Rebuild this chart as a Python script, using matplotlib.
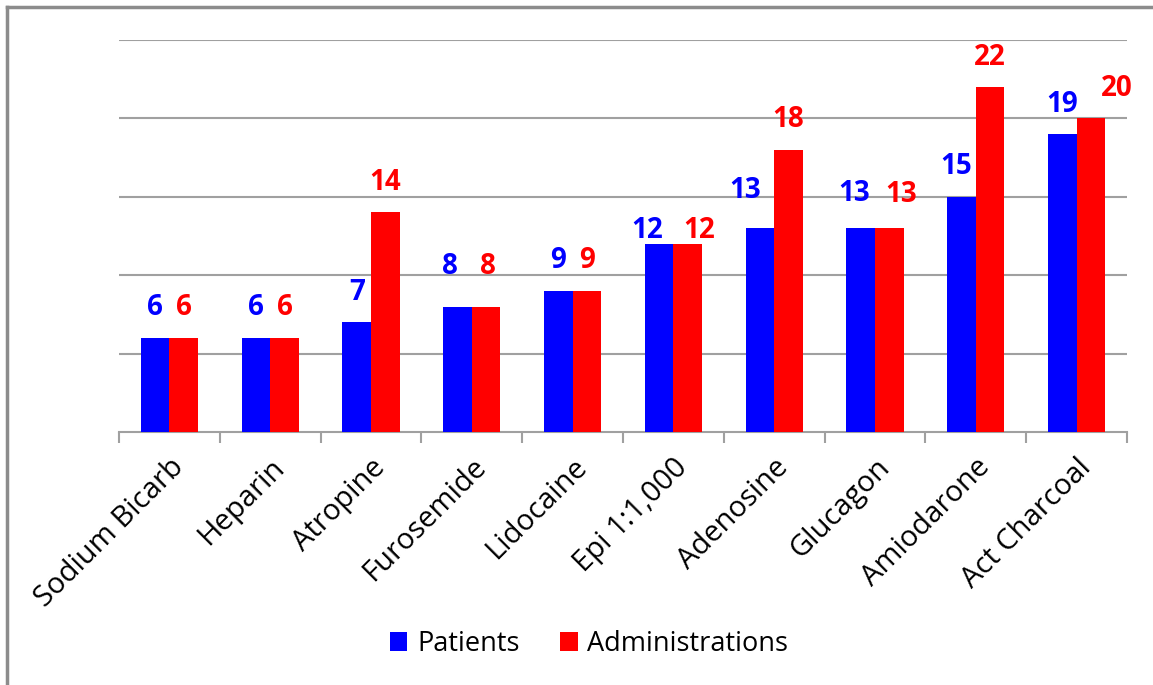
import numpy as np
import matplotlib.pyplot as plt
from matplotlib.lines import Line2D

# --------------------
# Data
# --------------------
drugs = ["Sodium Bicarb", "Heparin", "Atropine", "Furosemide", "Lidocaine",
         "Epi 1:1,000", "Adenosine", "Glucagon", "Amiodarone", "Act Charcoal"]
patients = [6, 6, 7, 8, 9, 12, 13, 13, 15, 19]
administrations = [6, 6, 14, 8, 9, 12, 18, 13, 22, 20]

# label nudges (px) where the labels were moved apart in the original
patient_dx = [0, 0, 0, -8, 0, -12, -15, -7, -5, 0]
patient_dy = [0, 0, 0, 10, 0, -17, 8, 5, 0, 0]
admin_dx = [0, 0, 0, 2, 0, 12, 0, 12, 0, 26]
admin_dy = [0, 0, 0, 10, 0, -17, 0, 4, 0, 0]

plt.rcParams["font.family"] = ["Open Sans", "DejaVu Sans"]

fig = plt.figure(figsize=(11.53, 6.85), dpi=100)
ax = fig.add_axes([119 / 1153, 1 - 432 / 685, (1127 - 119) / 1153, (432 - 40) / 685])

x = np.arange(len(drugs))
w = 0.283

ax.bar(x - w / 2, patients, w, color="#0000FF", label="Patients", zorder=3)
ax.bar(x + w / 2, administrations, w, color="#FF0000", label="Administrations", zorder=3)

px = 0.72  # points per pixel at dpi 100
for i in range(len(drugs)):
    ax.annotate(str(patients[i]), (x[i] - w / 2, patients[i]),
                xytext=(patient_dx[i] * px, (30 + patient_dy[i]) * px),
                textcoords="offset points", ha="center", va="center",
                color="#0000FF", fontsize=20, fontweight="bold")
    ax.annotate(str(administrations[i]), (x[i] + w / 2, administrations[i]),
                xytext=(admin_dx[i] * px, (30 + admin_dy[i]) * px),
                textcoords="offset points", ha="center", va="center",
                color="#FF0000", fontsize=20, fontweight="bold")

ax.set_xlim(-0.5, len(drugs) - 0.5)
ax.set_ylim(0, 25)
ax.set_yticks([5, 10, 15, 20, 25])
ax.yaxis.grid(True, color="#A0A0A0", linewidth=1.5, zorder=0)
ax.tick_params(axis="y", left=False, labelleft=False)

ax.set_xticks(x)
ax.set_xticklabels(drugs, rotation=45, ha="right", rotation_mode="anchor", fontsize=21)
ax.tick_params(axis="x", which="major", length=0, pad=15)
ax.set_xticks(np.arange(-0.5, len(drugs), 1.0), minor=True)
ax.tick_params(axis="x", which="minor", length=8, width=1.5, color="#A0A0A0")

for s in ["left", "right", "top"]:
    ax.spines[s].set_visible(False)
ax.spines["bottom"].set_color("#A0A0A0")
ax.spines["bottom"].set_linewidth(1.5)

fig.legend(loc="center", bbox_to_anchor=(589 / 1153, 1 - 644 / 685), ncol=2,
           frameon=False, fontsize=19.5, handlelength=0.65, handleheight=0.65,
           handletextpad=0.35, columnspacing=1.5)

# outer frame (top and left edges)
fig.add_artist(Line2D([7 / 1153, 1], [1 - 7 / 685, 1 - 7 / 685], color="#8C8C8C", linewidth=2.5))
fig.add_artist(Line2D([7 / 1153, 7 / 1153], [0, 1 - 7 / 685], color="#8C8C8C", linewidth=2.5))

fig.savefig("out.png", dpi=100)
